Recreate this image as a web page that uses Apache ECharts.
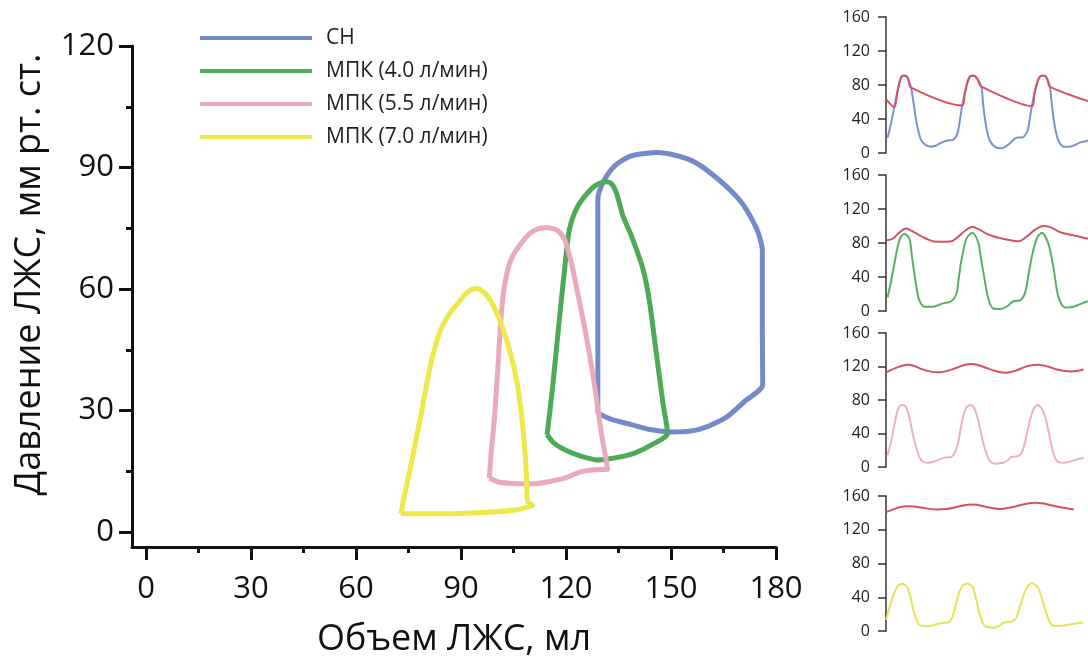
<!DOCTYPE html>
<html>
<head>
<meta charset="utf-8">
<script src="https://cdn.jsdelivr.net/npm/echarts@6/dist/echarts.min.js"></script>
<style>
html,body{margin:0;padding:0;background:#fff;}
#chart{width:1088px;height:659px;}
</style>
</head>
<body>
<div id="chart"></div>
<script>
// ---------- DATA ----------
const legendNames = ['СН', 'МПК (4.0 л/мин)', 'МПК (5.5 л/мин)', 'МПК (7.0 л/мин)'];
const xTicks = [0, 30, 60, 90, 120, 150, 180];
const xMinorTicks = [15, 45, 75, 105, 135, 165];
const yTicks = [0, 30, 60, 90, 120];
const yMinorTicks = [15, 45, 75, 105];

// PV loops: [volume, pressure]
const loopCH = [[129.1,29.4],[133,27.8],[138.7,26.5],[144,25.3],[150.1,24.7],[157.8,25.3],[165.4,28.1],[171.1,32.3],[176.2,36.4],
  [176.1,50],[176.1,69.4],[174.5,74.8],[170.2,81.3],[163.5,87.1],[155.9,91.7],[146.3,93.7],[138.7,92.9],[133.9,90.4],[130.6,86.3],[129.1,82.2],
  [129.1,60],[129.1,29.4]];
const loopMPK40 = [[114.6,24.0],[116.5,22],[119.6,20.3],[124,18.8],[129.1,17.8],[134,18.3],[139.6,19.5],[144.4,21.5],[149,24.4],
  [147.7,31.8],[145.8,44.2],[143.9,56.6],[142,64.9],[138.7,73.1],[136.3,78],[134.4,83.8],[133,86],[131.5,86.5],[129.3,86],[127.2,84.7],
  [123.4,80.5],[121,74.8],[119.6,64.9],[118.1,52.5],[116.2,36],[114.6,24.0]];
const loopMPK55 = [[98.1,13.3],[101,12.3],[104.3,12.0],[108,11.9],[111.9,12.0],[116,12.6],[119.6,13.3],[124.4,14.9],[128,15.4],[131.9,15.5],
  [130.1,24.4],[128.2,36],[126.3,45.9],[123.9,56.6],[121.5,66.5],[119.6,72.3],[117.5,74.5],[114.3,75.2],[111,74.5],[108.1,72.3],
  [104.3,67.3],[102.4,60.7],[101.4,52.5],[100.5,40.1],[99.5,27.7],[98.6,19.5],[98.1,13.3]];
const loopMPK70 = [[72.8,4.6],[80,4.5],[90,4.6],[100,5.0],[106,5.5],[108.5,6.0],[110.5,6.6],[109,7.5],[108.8,12],[108.3,19.5],
  [107.4,28],[106.2,36],[104.1,44.2],[101,52.5],[97.6,58.2],[94.6,60.1],[92.2,59.5],[90,57.4],[86.8,54],[84,49.5],[81.8,43],[80.2,36.5],
  [78.8,30],[77.2,23],[75.2,14.5],[72.8,4.6]];

// Pressure traces: [time, pressure]
const aoCH = [[0,63],[4.1,54],[5.5,70],[7,86],[8.3,91],[9.8,91],[11,87],[12.4,77],[37.7,56],[39,70],[40.7,86],[42.2,91],[43.7,91],
  [45.5,86],[47.2,78],[72.2,55],[73.5,70],[75.3,86],[77,91],[78.5,91],[80,86],[81.1,78],[100,61]];
const lvCH = [[0.8,18],[2.5,35],[4.1,54],[5.5,70],[7,86],[8.3,91],[9.8,91],[11,87],[12.4,77],[13.7,58],[14.9,39],[16.2,24],[17.4,15],
  [19.9,9],[22.4,7.5],[24.5,8.5],[26.5,11],[29.8,14.5],[33.1,15.5],[34.6,19],[35.6,25],[36.7,40],[37.7,56],[39,70],[40.7,86],[42.2,91],
  [43.7,91],[45.5,86],[47.2,78],[48,60],[48.8,43],[50,26],[51.3,15],[53.8,7.5],[57.1,5.5],[60.4,9.5],[62.5,14],[64.5,18],[67.8,18.5],
  [69.2,22],[70.3,28],[71.3,42],[72.2,55],[73.5,70],[75.3,86],[77,91],[78.5,91],[80,86],[81.1,78],[82,60],[82.8,43],[84,26],[85.3,15],
  [87.8,7.5],[91.1,7.5],[94,10],[96.1,12.5],[100,14.5]];
const aoMPK40 = [[0,83],[3.3,85],[6.5,92],[9.9,97],[13,94],[16.6,89],[20,85],[23.2,82],[28,81.5],[32.3,82],[36.5,89],[39.5,95],[42.8,99],
  [46,96],[49.7,91],[53,88],[56.3,86],[61,83.5],[65.5,82],[70.4,89],[74,96],[77.9,100],[81,99],[82.8,97],[87,92],[92.8,89],[100,85]];
const lvMPK40 = [[0.8,16],[2.5,35],[4.1,55],[6.6,83],[9.1,91],[11.6,85],[12.8,65],[14.1,43],[15.3,25],[16.6,12],[19.1,5],[23.2,5],
  [28.2,9],[32.3,11.5],[34.8,20],[36,38],[37.3,59],[39.8,85],[42.8,92],[45.6,81],[46.8,65],[48.1,47],[50.6,15],[53.1,3],[56.4,2.5],
  [59.7,5],[63,11.5],[66.3,12.5],[68.8,21],[70.5,42],[72.1,63],[74.6,85],[77.1,92],[80.4,79],[82.9,51],[85.4,16],[88.7,4],[92.8,5],
  [97,9],[100,11.5]];
const aoMPK55 = [[0,113],[4,117.5],[8,121],[10.8,122],[14,120.5],[17,117.5],[21,114.5],[25.7,113],[30,114.5],[35,118.5],[39,122],
  [42.3,123],[46,121.5],[50,118],[55,114],[59.7,112.5],[64,115],[68.8,119.5],[72,121.5],[75.4,122],[80,120],[85.3,116],[91.1,114],
  [94.5,114.5],[97.8,116.5]];
const lvMPK55 = [[0.8,14],[2.5,30],[4,48],[5.8,68],[7.8,74],[9.8,72],[11.5,60],[13,42],[14.8,25],[16.5,12],[18.5,6],[21,5],[24.5,7],
  [27.3,10],[30,11.5],[32.3,12],[34,17],[35.6,28],[37.5,52],[39.5,70],[41.8,74],[43.5,71],[45.5,57],[47.5,35],[49.7,16],[51.5,7],
  [54,4],[58,5],[60.5,8.5],[62.2,12],[64.5,12.5],[66.3,14],[68,22],[69.6,38],[71.5,58],[73.5,71],[75.2,74],[77,70],[78.8,60],[80.5,42],
  [82,25],[83.5,12],[85.3,6],[88,5],[91.1,6.5],[94.5,9],[97.8,11]];
const aoMPK70 = [[0,141],[4,144.5],[7,147],[10.6,148],[14,147.5],[18,146],[24.9,144],[30,144.5],[35,147],[41.4,150],[45,149.5],
  [49.7,147],[56.3,144.5],[61,146],[66.3,149],[70,151],[73.7,152],[78,151],[82.8,148.5],[88,146],[93,144]];
const lvMPK70 = [[0,13],[1.8,28],[3.3,40],[5,50],[6.6,55],[8.3,56],[9.8,54],[10.8,51],[12.5,36],[14.1,20],[15.5,11],[16.6,7],[19,6],
  [21.5,6],[24,7.5],[26.5,9],[30.6,10],[32,12.5],[33.1,18],[34.8,33],[36.4,47],[38,54],[39.8,56],[41.5,55],[43.1,51],[44.8,36],[46.4,20],
  [48,9],[49.7,5],[53.8,4],[56,6],[58,9.5],[60,10.5],[62.1,11],[63.5,13],[64.6,16],[66.7,32],[68.8,47],[70.5,54],[72.1,57],[73.8,55],
  [75.4,51],[77.5,36],[79.5,20],[81.2,10],[82.9,6],[86,6],[89.5,7],[94,9],[97.8,10]];

// ---------- STYLE ----------
const FONT = '"Open Sans", "Noto Sans", sans-serif';
const C = {blue:'#7389C9', green:'#4DAA55', pink:'#EAAABD', yellow:'#EEE84B', red:'#D9505F'};
const CP = {blue:'#7C92D0', green:'#5BAF62', pink:'#ECB2C2', yellow:'#E6E35A'};
const panelTops = [17, 175, 333, 496];
const panelHeights = [136, 136, 134, 135];

const grids = [{left:132, top:46, width:644, height:501, outerBoundsMode:'none', containLabel:false}];
panelTops.forEach((t,i)=>grids.push({left:886, right:0, top:t, height:panelHeights[i], outerBoundsMode:'none', containLabel:false}));

const xAxes = [
  {gridIndex:0, type:'value', min:-4, max:180, position:'bottom',
   axisLine:{show:true, onZero:false, lineStyle:{color:'#111', width:3}},
   axisTick:{show:true, customValues:xTicks, length:13, lineStyle:{color:'#111', width:3}},
   axisLabel:{show:true, customValues:xTicks, fontSize:31, color:'#111', fontFamily:FONT, margin:27},
   splitLine:{show:false},
   name:'Объем ЛЖС, мл', nameLocation:'middle', nameGap:75,
   nameTextStyle:{fontSize:36, color:'#111', fontFamily:FONT}},
  {gridIndex:0, type:'value', min:-4, max:180, position:'bottom',
   axisLine:{show:false, onZero:false},
   axisTick:{show:true, customValues:xMinorTicks, length:6, lineStyle:{color:'#111', width:3}},
   axisLabel:{show:false}, splitLine:{show:false}}
];
const yAxes = [
  {gridIndex:0, type:'value', min:-3.7, max:120, position:'left',
   axisLine:{show:true, onZero:false, lineStyle:{color:'#111', width:3}},
   axisTick:{show:true, customValues:yTicks, length:13, lineStyle:{color:'#111', width:3}},
   axisLabel:{show:true, customValues:yTicks, fontSize:31, color:'#111', fontFamily:FONT, margin:18},
   splitLine:{show:false},
   name:'Давление ЛЖС, мм рт. ст.', nameLocation:'middle', nameGap:84,
   nameTextStyle:{fontSize:36, color:'#111', fontFamily:FONT, padding:[0,0,0,44]}},
  {gridIndex:0, type:'value', min:-3.7, max:120, position:'left',
   axisLine:{show:false, onZero:false},
   axisTick:{show:true, customValues:yMinorTicks, length:6, lineStyle:{color:'#111', width:3}},
   axisLabel:{show:false}, splitLine:{show:false}}
];
for (let i=1;i<=4;i++){
  xAxes.push({gridIndex:i, type:'value', min:0, max:100, show:false});
  yAxes.push({gridIndex:i, type:'value', min:0, max:160, interval:40,
    axisLine:{show:true, lineStyle:{color:'#333', width:1.5}},
    axisTick:{show:true, length:8, lineStyle:{color:'#333', width:1.5}},
    axisLabel:{fontSize:16, color:'#222', fontFamily:FONT, margin:16},
    splitLine:{show:false}});
}

function loop(name, data, color){
  return {name, type:'line', xAxisIndex:0, yAxisIndex:0, data, symbol:'none', smooth:0.25,
    lineStyle:{color, width:5}, itemStyle:{color}, z:3};
}
function trace(name, idx, data, color){
  return {name, type:'line', xAxisIndex:idx+1, yAxisIndex:idx+1, data, symbol:'none', smooth:0.3,
    lineStyle:{color, width:2}, itemStyle:{color}, silent:true};
}

const series = [
  loop(legendNames[0], loopCH, C.blue),
  loop(legendNames[1], loopMPK40, C.green),
  loop(legendNames[2], loopMPK55, C.pink),
  loop(legendNames[3], loopMPK70, C.yellow),
  trace('ЛЖ 1', 1, lvCH, CP.blue), trace('Ао 1', 1, aoCH, C.red),
  trace('ЛЖ 2', 2, lvMPK40, CP.green), trace('Ао 2', 2, aoMPK40, C.red),
  trace('ЛЖ 3', 3, lvMPK55, CP.pink), trace('Ао 3', 3, aoMPK55, C.red),
  trace('ЛЖ 4', 4, lvMPK70, CP.yellow), trace('Ао 4', 4, aoMPK70, C.red)
];

const chart = echarts.init(document.getElementById('chart'), null, {renderer:'canvas'});
chart.setOption({
  backgroundColor:'#fff',
  animation:false,
  grid:grids,
  xAxis:xAxes,
  yAxis:yAxes,
  legend:{data:legendNames, orient:'vertical', left:195, top:22, icon:'rect', itemWidth:112, itemHeight:4, itemGap:11,
    textStyle:{fontSize:21, color:'#222', fontFamily:FONT, lineHeight:22, padding:[0,0,0,9]}},
  series
});
</script>
</body>
</html>
